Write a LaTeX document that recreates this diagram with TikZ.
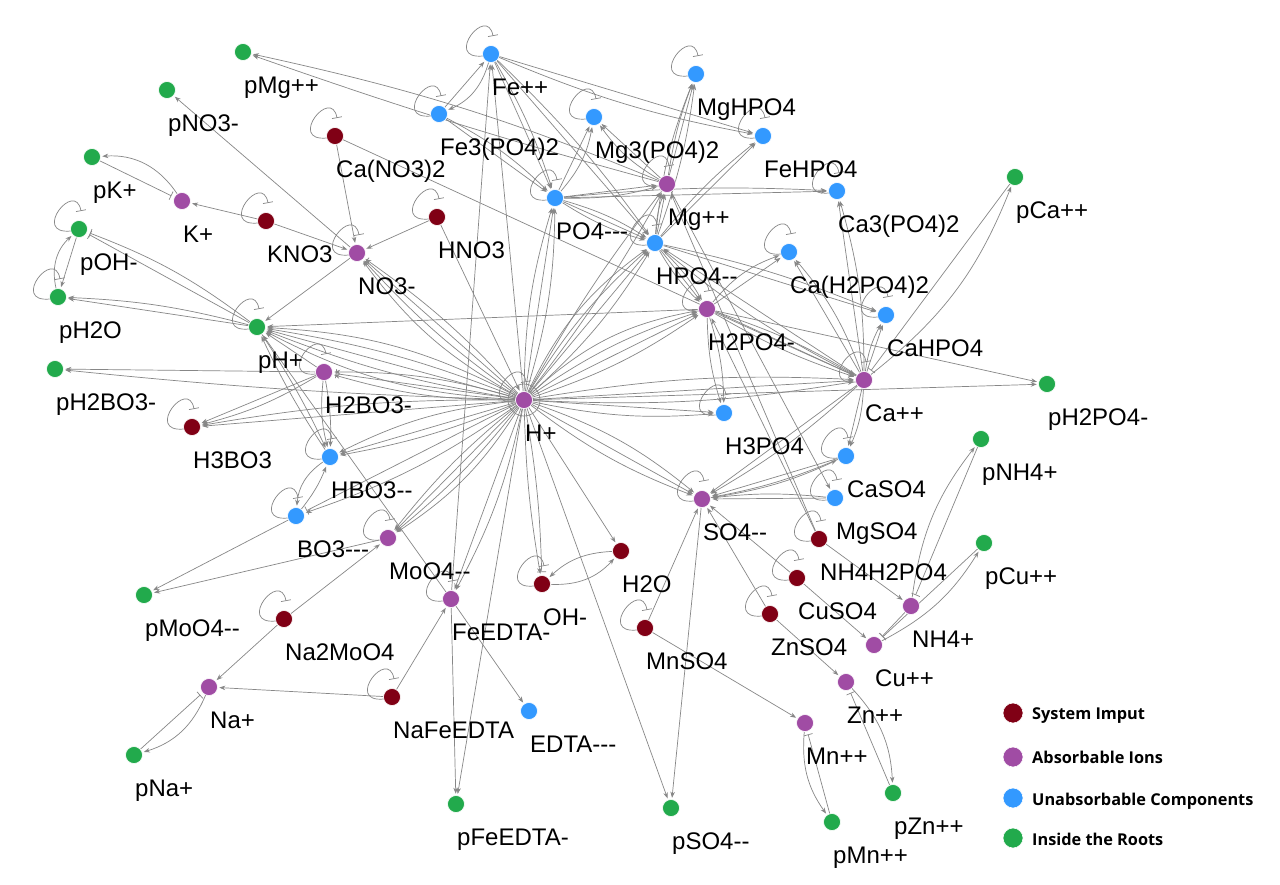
\documentclass[tikz,border=0pt]{standalone}
\usepackage{fontspec}
\setmainfont{Liberation Sans}
\newfontfamily\legfont{Open Sans}
\usetikzlibrary{arrows.meta,calc}
\definecolor{cred}{RGB}{128,0,21}
\definecolor{cpur}{RGB}{160,76,164}
\definecolor{cblu}{RGB}{51,153,255}
\definecolor{cgrn}{RGB}{34,170,76}
\definecolor{cedge}{RGB}{135,135,135}
\pgfdeclarelayer{bg}
\pgfsetlayers{bg,main}
\newcommand\nd[5]{\node[dot,fill=#4] (#1) at (#2,#3) {};
  \node[lab] (#1-l) at (#2+1,#3+41) {#5};}
\newcommand\EM[3]{\foreach \b in {#1} {\draw[ed,bend left=\b] (#2) to (#3);}}
\newcommand\IM[3]{\foreach \b in {#1} {\draw[inh,bend left=\b] (#2) to (#3);}}
\newcommand\lp[1]{\draw[lpst] ($(#1)+(-8,2)$) .. controls ($(#1)+(-48,6)$) and ($(#1)+(-4,-50)$) .. ($(#1)+(2,-18)$);}
\begin{document}
\begin{tikzpicture}[x=1pt,y=-1pt,
  dot/.style={circle,minimum size=17pt,inner sep=0pt,draw=white,line width=0.6pt},
  lab/.style={anchor=base west,inner sep=0pt,font=\fontsize{24}{24}\selectfont},
  ed/.style={draw=cedge,line width=0.7pt,-{Stealth[length=6pt,width=4.5pt]},shorten >=1.5pt},
  inh/.style={draw=cedge,line width=0.7pt,-{Bar[width=9pt]},shorten >=3pt},
  lpst/.style={draw=cedge,line width=0.7pt,-{Bar[width=10pt]}},
  legt/.style={anchor=base west,inner sep=0pt,font=\legfont\bfseries\fontsize{16.3}{17}\selectfont}]
\useasboundingbox (0,0) rectangle (1280,884);
% ---------------- nodes
\nd{pMg}{243}{52}{cgrn}{pMg++}
\nd{pNO}{167}{90}{cgrn}{pNO3-}
\nd{pK}{92}{157}{cgrn}{pK+}
\nd{Kp}{182}{201}{cpur}{K+}
\nd{KNO}{266}{221}{cred}{KNO3}
\nd{CaNO}{335}{136}{cred}{Ca(NO3)2}
\nd{HNO}{437}{217}{cred}{HNO3}
\nd{NOm}{357}{253}{cpur}{NO3-}
\nd{pOH}{79}{229}{cgrn}{pOH-}
\nd{pHO}{58}{297}{cgrn}{pH2O}
\nd{pHp}{257}{327}{cgrn}{pH+}
\nd{pHBO}{55}{369}{cgrn}{pH2BO3-}
\nd{HBOm}{324}{372}{cpur}{H2BO3-}
\nd{HHBO}{192}{427}{cred}{H3BO3}
\nd{HBOmm}{330}{457}{cblu}{HBO3-{}-}
\nd{BOmmm}{296}{516}{cblu}{BO3-{}-{}-}
\nd{MoO}{388}{538}{cpur}{MoO4-{}-}
\nd{pMoO}{144}{595}{cgrn}{pMoO4-{}-}
\nd{NaMo}{284}{619}{cred}{Na2MoO4}
\nd{Nap}{209}{687}{cpur}{Na+}
\nd{pNa}{134}{755}{cgrn}{pNa+}
\nd{NaFe}{392}{697}{cred}{NaFeEDTA}
\nd{FeED}{451}{599}{cpur}{FeEDTA-}
\nd{EDTA}{529}{711}{cblu}{EDTA-{}-{}-}
\nd{pFeED}{456}{804}{cgrn}{pFeEDTA-}
\nd{OHm}{542}{584}{cred}{OH-}
\nd{HHO}{621}{551}{cred}{H2O}
\nd{MnSO}{645}{628}{cred}{MnSO4}
\nd{Hp}{524}{400}{cpur}{H+}
\nd{Fepp}{491}{54}{cblu}{Fe++}
\nd{FePO}{439}{114}{cblu}{Fe3(PO4)2}
\nd{MgPO}{594}{117}{cblu}{Mg3(PO4)2}
\nd{MgHP}{696}{74}{cblu}{MgHPO4}
\nd{FeHP}{763}{136}{cblu}{FeHPO4}
\nd{Mgpp}{667}{184}{cpur}{Mg++}
\nd{PO}{555}{198}{cblu}{PO4-{}-{}-}
\nd{HPO}{655}{243}{cblu}{HPO4-{}-}
\nd{CaPO}{837}{191}{cblu}{Ca3(PO4)2}
\nd{pCa}{1015}{177}{cgrn}{pCa++}
\nd{CaHHP}{789}{252}{cblu}{Ca(H2PO4)2}
\nd{HHPO}{707}{309}{cpur}{H2PO4-}
\nd{CaHP}{886}{315}{cblu}{CaHPO4}
\nd{Capp}{864}{380}{cpur}{Ca++}
\nd{pHHPO}{1047}{384}{cgrn}{pH2PO4-}
\nd{HHHPO}{724}{413}{cblu}{H3PO4}
\nd{CaSO}{846}{456}{cblu}{CaSO4}
\nd{MgSOb}{835}{498}{cblu}{MgSO4}
\nd{SO}{702}{499}{cpur}{SO4-{}-}
\nd{NHHP}{819}{539}{cred}{NH4H2PO4}
\nd{CuSO}{797}{578}{cred}{CuSO4}
\nd{ZnSO}{770}{614}{cred}{ZnSO4}
\nd{NHp}{911}{606}{cpur}{NH4+}
\nd{pNH}{981}{439}{cgrn}{pNH4+}
\nd{pCu}{984}{543}{cgrn}{pCu++}
\nd{Cupp}{874}{645}{cpur}{Cu++}
\nd{Znpp}{846}{682}{cpur}{Zn++}
\nd{Mnpp}{805}{723}{cpur}{Mn++}
\nd{pZn}{893}{793}{cgrn}{pZn++}
\nd{pMn}{832}{822}{cgrn}{pMn++}
\nd{pSO}{671}{808}{cgrn}{pSO4-{}-}
% ---------------- legend
\node[dot,minimum size=20pt,fill=cred] (lg1) at (1013,713) {};
\node[legt] (lg1t) at (1032,719) {System Imput};
\node[dot,minimum size=20pt,fill=cpur] (lg2) at (1013,757) {};
\node[legt] (lg2t) at (1032,763) {Absorbable Ions};
\node[dot,minimum size=20pt,fill=cblu] (lg3) at (1013,798) {};
\node[legt] (lg3t) at (1032,805) {Unabsorbable Components};
\node[dot,minimum size=20pt,fill=cgrn] (lg4) at (1013,838) {};
\node[legt] (lg4t) at (1032,845) {Inside the Roots};
% ---------------- edges
\begin{pgfonlayer}{bg}
\fill[white] (0,0) rectangle (1280,884);
\draw[cedge,line width=0.7pt] (Hp) circle[radius=16];
% self loops
\foreach \n in {Fepp,FePO,MgPO,MgHP,FeHP,CaPO,CaHHP,CaHP,Capp,CaSO,MgSOb,NHHP,CuSO,ZnSO,MnSO,SO,OHm,MoO,FeED,NaMo,NaFe,BOmmm,HBOmm,HHBO,HBOm,pHp,pOH,pHO,KNO,CaNO,HNO,NOm,PO,HPO,Mgpp,HHPO,HHHPO,Hp}{\lp{\n}}
% top-left
\EM{-5,2}{Mgpp}{pMg}
\EM{0}{NOm}{pNO}
\EM{-30}{Kp}{pK}
\IM{0}{pK}{Kp}
\EM{0}{KNO}{Kp}
\EM{0}{KNO}{NOm}
\EM{0}{CaNO}{NOm}
\EM{0}{CaNO}{Capp}
\EM{0}{HNO}{NOm}
\EM{0}{HNO}{Hp}
\EM{0}{NOm}{pHp}
\EM{0}{pOH}{pHO}
\EM{30}{pHO}{pOH}
\IM{0,-8}{pHp}{pOH}
\EM{0,-6}{pHp}{pHO}
% H+ hub
\EM{0,6,-6,12,-12}{Hp}{pHp}
\EM{2}{Hp}{pHBO}
\EM{0,-5}{Hp}{HHBO}
\IM{0}{Hp}{HBOm}
\EM{8,-8}{Hp}{HBOm}
\EM{0,6,-10}{Hp}{HBOmm}
\IM{0}{Hp}{BOmmm}
\EM{8}{Hp}{BOmmm}
\EM{0,6,-6,12}{Hp}{MoO}
\EM{0,8}{Hp}{FeED}
\EM{0}{Hp}{pFeED}
\IM{4}{Hp}{OHm}
\EM{-4}{Hp}{OHm}
\EM{0}{Hp}{HHO}
\EM{0}{Hp}{pSO}
\EM{0,10,-8}{Hp}{SO}
\EM{0,-8}{Hp}{HHHPO}
\EM{0,6,-6}{Hp}{Capp}
\EM{0,8,-8,16}{Hp}{HHPO}
\EM{0,8,-8,14}{Hp}{HPO}
\EM{0,8,-8}{Hp}{PO}
\EM{0}{Hp}{Fepp}
\EM{4,-4}{Hp}{Mgpp}
\IM{0}{Hp}{NOm}
\EM{6,-6,12}{Hp}{NOm}
\EM{0}{Hp}{pHHPO}
% boron / left
\EM{0}{HBOm}{pHBO}
\EM{0,8}{HBOm}{HHBO}
\EM{0}{HBOm}{pHp}
\EM{6,-10}{HBOm}{HBOmm}
\EM{4}{pHp}{HBOmm}
\EM{4}{HBOmm}{pHp}
\EM{-25}{HBOmm}{BOmmm}
\EM{-8}{BOmmm}{HBOmm}
\EM{0}{BOmmm}{pMoO}
\EM{0}{MoO}{pMoO}
\EM{0}{NaMo}{MoO}
\EM{0}{NaMo}{Nap}
\EM{25}{Nap}{pNa}
\IM{0}{pNa}{Nap}
\EM{0}{NaFe}{Nap}
\EM{0}{NaFe}{FeED}
\EM{0}{FeED}{EDTA}
\EM{0}{FeED}{pFeED}
\EM{0}{FeED}{pHp}
\EM{0}{FeED}{Fepp}
% water / sulfate
\EM{-25}{OHm}{HHO}
\EM{-20}{HHO}{OHm}
\EM{0}{MnSO}{SO}
\EM{0}{MnSO}{Mnpp}
\EM{0}{SO}{pSO}
\EM{-20}{Mnpp}{pMn}
\IM{0}{pMn}{Mnpp}
\EM{20}{Znpp}{pZn}
\IM{0}{pZn}{Znpp}
\EM{0}{ZnSO}{SO}
\EM{0}{ZnSO}{Znpp}
\EM{0}{CuSO}{SO}
\EM{0}{CuSO}{Cupp}
\EM{-15}{Cupp}{pCu}
\IM{0}{pCu}{Cupp}
\IM{0}{NHp}{Cupp}
\EM{0}{NHHP}{NHp}
\EM{0}{NHHP}{HHPO}
\EM{0}{NHHP}{Mgpp}
\EM{15}{NHp}{pNH}
\IM{0}{pNH}{NHp}
\EM{0,6}{CaSO}{SO}
\EM{0,-6}{MgSOb}{SO}
\EM{-8}{SO}{CaSO}
\EM{0,10}{Capp}{CaSO}
\EM{0}{Mgpp}{MgSOb}
\EM{0,6}{Capp}{SO}
% calcium / phosphate
\EM{-15}{Capp}{pCa}
\IM{0}{pCa}{Capp}
\EM{0}{HHPO}{pHHPO}
\EM{0,6,-6}{HHPO}{Capp}
\EM{8,-8}{HHPO}{HHHPO}
\EM{0}{HHPO}{pHp}
\EM{0,15}{HHPO}{CaHHP}
\EM{0,-10}{Capp}{CaHHP}
\EM{0,5}{HPO}{CaHP}
\EM{0,10}{Capp}{CaHP}
\EM{0,6}{Capp}{HPO}
\EM{0,-8}{Capp}{CaPO}
\EM{0,4}{PO}{CaPO}
\EM{0,8,-8}{HPO}{HHPO}
\EM{0,8,-8}{PO}{HPO}
\EM{0,8}{HPO}{Mgpp}
\EM{0,-8}{PO}{Mgpp}
\EM{0,6}{Mgpp}{MgHP}
\EM{-6,8}{HPO}{MgHP}
\EM{0,12}{Mgpp}{MgPO}
\EM{-15,0}{PO}{MgPO}
\EM{0,6}{HPO}{FeHP}
\EM{0,-6}{Fepp}{FeHP}
\EM{0,6}{Fepp}{PO}
\EM{0,5}{Fepp}{HPO}
\EM{0}{FePO}{Fepp}
\EM{25}{Fepp}{FePO}
\EM{0,8}{FePO}{PO}
\end{pgfonlayer}
\end{tikzpicture}
\end{document}
